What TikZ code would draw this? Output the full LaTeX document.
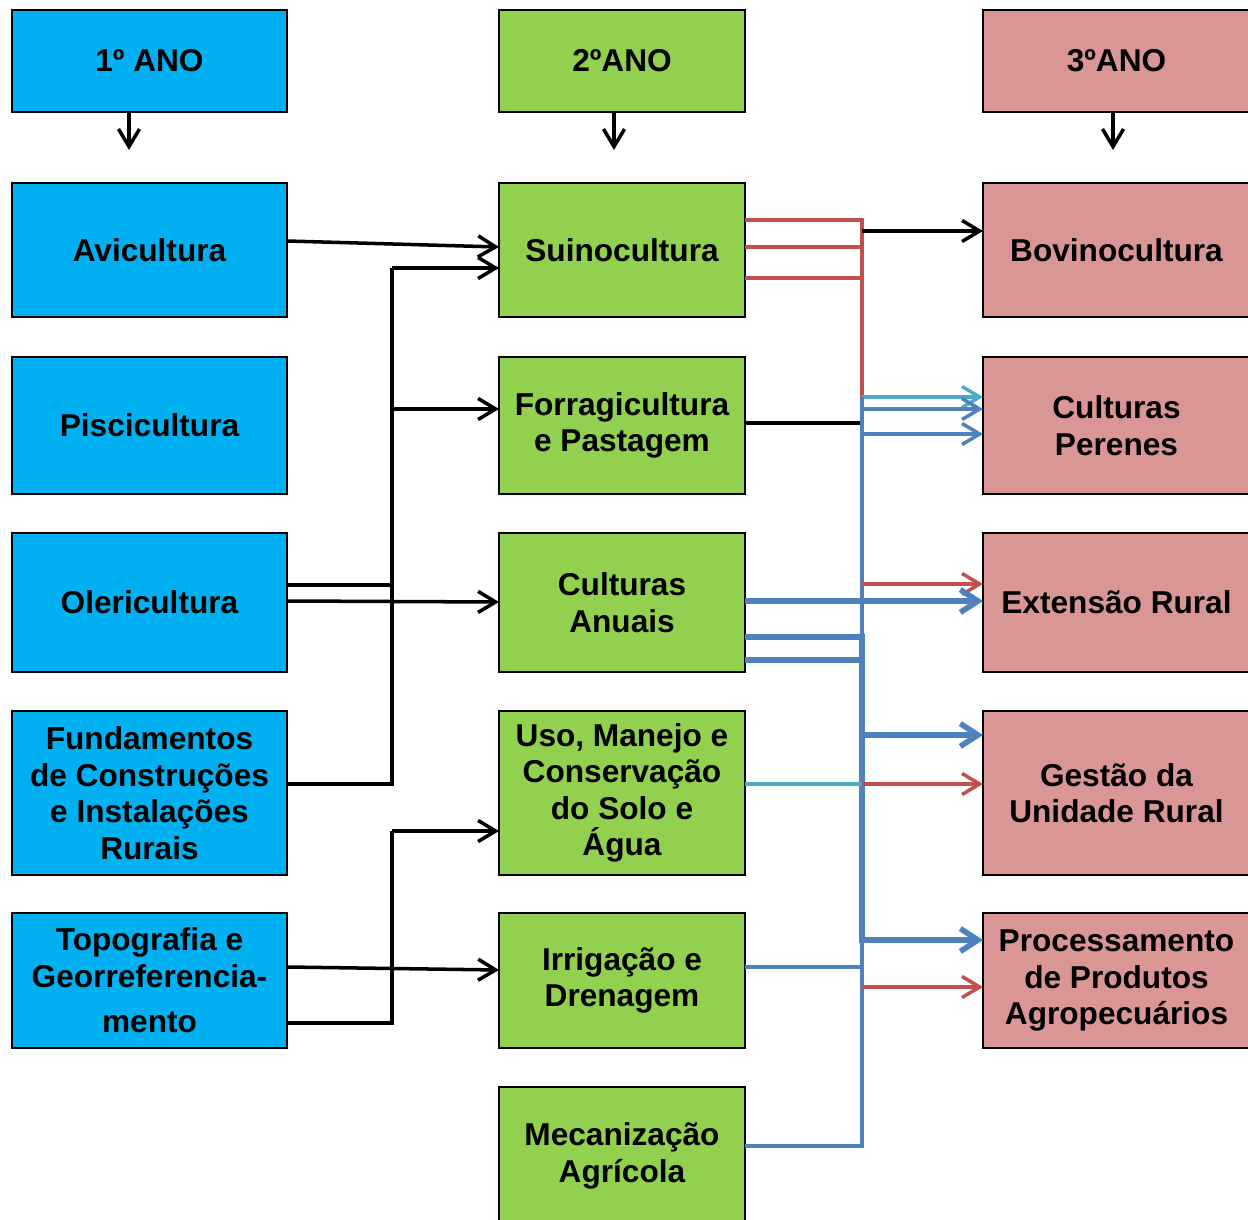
\documentclass[tikz,border=0pt]{standalone}
\usepackage{fontspec}
\setmainfont{Liberation Sans}
\usetikzlibrary{calc,arrows.meta}

\definecolor{azulano}{HTML}{00B0F0}
\definecolor{verdeano}{HTML}{92D050}
\definecolor{rosaano}{HTML}{DA9694}
\definecolor{linred}{HTML}{C0504D}
\definecolor{linblue}{HTML}{4F81BD}
\definecolor{lincyan}{HTML}{4BACC6}

\tikzset{
	caixa/.style={draw=black,line width=1.6pt,align=center,inner sep=2pt,outer sep=0pt,
		font=\fontsize{18}{20.8}\selectfont\bfseries},
	ano1/.style={caixa,fill=azulano,minimum width=5.5cm},
	ano2/.style={caixa,fill=verdeano,minimum width=4.92cm},
	ano3/.style={caixa,fill=rosaano,minimum width=5.34cm},
	lin/.style={line width=2pt},
	linr/.style={line width=2pt,draw=linred},
	linb/.style={line width=2pt,draw=linblue},
	linc/.style={line width=2pt,draw=lincyan},
	linbb/.style={line width=3.2pt,draw=linblue},
	pil/.style={lin,-{Straight Barb[length=10pt,width=12pt]}},
	pilr/.style={linr,-{Straight Barb[length=10pt,width=12pt]}},
	pilb/.style={linb,-{Straight Barb[length=10pt,width=12pt]}},
	pilc/.style={linc,-{Straight Barb[length=10pt,width=12pt]}},
	pilbb/.style={linbb,-{Straight Barb[length=10pt,width=13pt]}},
}

\begin{document}
\begin{tikzpicture}[x=0.02cm,y=-0.02cm]
		\useasboundingbox (0,0) rectangle (1248,1220);
		\node[ano1,minimum height=2.04cm] (h1) at (149.5,61) {1º ANO};
		\node[ano2,minimum height=2.04cm] (h2) at (622,61) {2ºANO};
		\node[ano3,minimum height=2.04cm] (h3) at (1116.5,61) {3ºANO};

		\node[ano1,minimum height=2.68cm] (avi) at (149.5,250) {Avicultura};
		\node[ano1,minimum height=2.74cm] (pis) at (149.5,425.5) {Piscicultura};
		\node[ano1,minimum height=2.78cm] (ole) at (149.5,602.5) {Olericultura};
		\node[ano1,minimum height=3.28cm] (fund) at (149.5,793) {Fundamentos\\de Construções\\e Instalações\\Rurais};
		\node[ano1,minimum height=2.7cm] (topo) at (149.5,980.5) {Topografia e\\Georreferencia-\\[5pt]mento};

		\node[ano2,minimum height=2.68cm] (sui) at (622,250) {Suinocultura};
		\node[ano2,minimum height=2.74cm] (forr) at (622,425.5) {Forragicultura\\e Pastagem};
		\node[ano2,minimum height=2.78cm] (anu) at (622,602.5) {Culturas\\Anuais};
		\node[ano2,minimum height=3.28cm] (uso) at (622,793) {Uso, Manejo e\\Conservação\\do Solo e\\Água};
		\node[ano2,minimum height=2.7cm] (irr) at (622,980.5) {Irrigação e\\Drenagem};
		\node[ano2,minimum height=2.76cm] (mec) at (622,1156) {Mecanização\\Agrícola};

		\node[ano3,minimum height=2.68cm] (bov) at (1116.5,250) {Bovinocultura};
		\node[ano3,minimum height=2.74cm] (per) at (1116.5,425.5) {Culturas\\Perenes};
		\node[ano3,minimum height=2.78cm] (ext) at (1116.5,602.5) {Extensão Rural};
		\node[ano3,minimum height=3.28cm] (ges) at (1116.5,793) {Gestão da\\Unidade Rural};
		\node[ano3,minimum height=2.7cm] (proc) at (1116.5,980.5) {Processamento\\de Produtos\\Agropecuários};

		\draw[pil] (h1.south -| 129,0) -- ++(0,38);
		\draw[pil] (h2.south -| 614,0) -- ++(0,38);
		\draw[pil] (h3.south -| 1113,0) -- ++(0,38);

		\coordinate (busa) at (392,268);
		\coordinate (busb) at (392,831);
		\draw[pil] (avi.east |- 0,241) -- (sui.west |- 0,247);
		\draw[pil] (busa) -- (sui.west |- busa);
		\draw[pil] (busa |- 0,409) -- (forr.west |- 0,409);
		\draw[lin] (busa) -- (busa |- 0,784) -- (fund.east |- 0,784);
		\draw[lin] (ole.east |- 0,585) -- (busa |- 0,585);
		\draw[pil] (ole.east |- 0,601) -- (anu.west |- 0,602);
		\draw[pil] (busb) -- (uso.west |- busb);
		\draw[lin] (busb) -- (busb |- 0,1023) -- (topo.east |- 0,1023);
		\draw[pil] (topo.east |- 0,967) -- (irr.west |- 0,970);

		\coordinate (busr) at (862,220);
		\draw[linr] (sui.east |- busr) -- (busr) -- (busr |- 0,397);
		\foreach \yy in {247,278}
			\draw[linr] (sui.east |- 0,\yy) -- (busr |- 0,\yy);
		\draw[pil] (busr |- 0,231) -- (bov.west |- 0,231);
		\draw[lin] (forr.east |- 0,423) -- (busr |- 0,423);
		\draw[pilc] (busr |- 0,397) -- (per.west |- 0,397);
		\draw[linb] (busr |- 0,397) -- (busr |- 0,1146) -- (mec.east |- 0,1146);
		\foreach \yy in {409,434}
			\draw[pilb] (busr |- 0,\yy) -- (per.west |- 0,\yy);
		\draw[pilr] (busr |- 0,584) -- (ext.west |- 0,584);
		\draw[pilbb] (anu.east |- 0,601) -- (ext.west |- 0,601);
		\draw[pilbb] (anu.east |- 0,637) -- (busr |- 0,637) -- (busr |- 0,940) -- (proc.west |- 0,940);
		\draw[linbb] (anu.east |- 0,660) -- (busr |- 0,660);
		\draw[pilbb] (busr |- 0,735) -- (ges.west |- 0,735);
		\draw[linc] (uso.east |- 0,784) -- (busr |- 0,784);
		\draw[pilr] (busr |- 0,784) -- (ges.west |- 0,784);
		\draw[linb] (irr.east |- 0,967) -- (busr |- 0,967);
		\draw[pilr] (busr |- 0,987) -- (proc.west |- 0,987);
\end{tikzpicture}
\end{document}
